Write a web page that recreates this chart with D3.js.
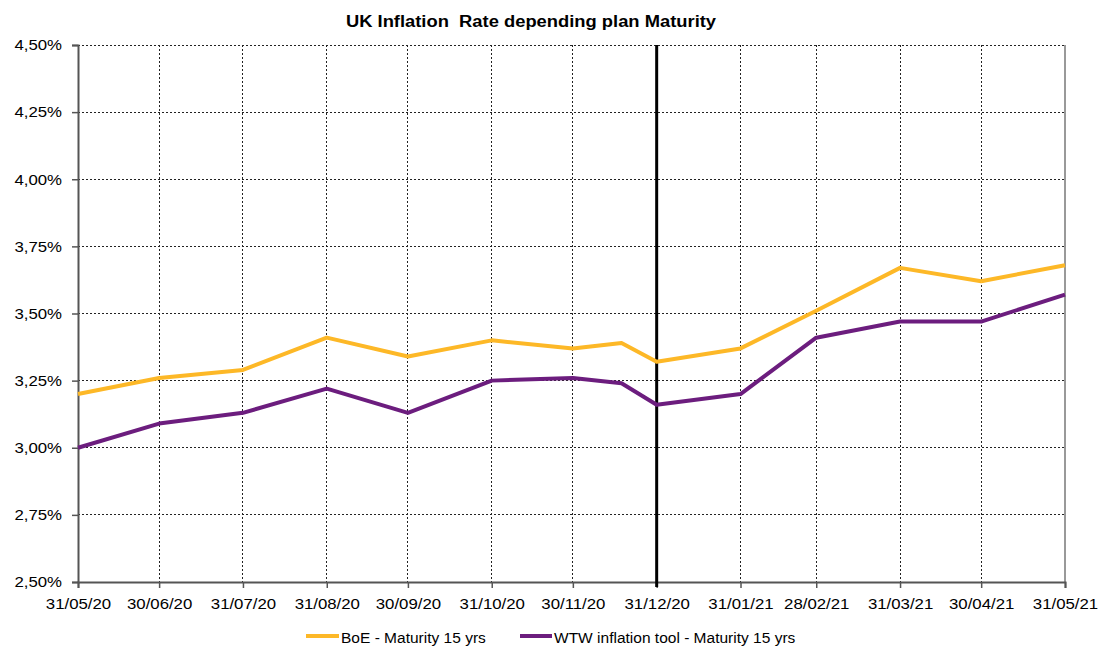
<!DOCTYPE html>
<html><head><meta charset="utf-8">
<script src="https://cdn.jsdelivr.net/npm/d3@7"></script>
<style>body{margin:0;background:#fff;}svg{display:block;font-family:"Liberation Sans",Arial,sans-serif;}</style>
</head><body><svg id="c" width="1101" height="647"></svg>
<script>
const dates = ["31/05/20","30/06/20","31/07/20","31/08/20","30/09/20","31/10/20","30/11/20","18/12/20","31/12/20","31/01/21","28/02/21","31/03/21","30/04/21","31/05/21"];
const boe = [3.20,3.26,3.29,3.41,3.34,3.40,3.37,3.39,3.32,3.37,3.51,3.67,3.62,3.68];
const wtw = [3.00,3.09,3.13,3.22,3.13,3.25,3.26,3.24,3.16,3.20,3.41,3.47,3.47,3.57];
const xTicks = ["31/05/20","30/06/20","31/07/20","31/08/20","30/09/20","31/10/20","30/11/20","31/12/20","31/01/21","28/02/21","31/03/21","30/04/21","31/05/21"];
const yTicks = [2.50,2.75,3.00,3.25,3.50,3.75,4.00,4.25,4.50];
const markerDate = "31/12/20";
const seriesNames = ["BoE - Maturity 15 yrs","WTW inflation tool - Maturity 15 yrs"];
const colors = ["#FDB827","#6C1D7E"];

const parse = d3.timeParse("%d/%m/%y");
const svg = d3.select("#c");
const L=78,R=1065,T=45,B=582;
const x = d3.scaleTime().domain([parse("31/05/20"),parse("31/05/21")]).range([L,R]);
const y = d3.scaleLinear().domain([2.5,4.5]).range([B,T]);
const fmt = v => d3.format(".2f")(v).replace(".",",")+"%";
const SX = 1.12;

// grid
const g = svg.append("g");
g.selectAll(".hg").data(yTicks.slice(1)).join("line")
  .attr("x1",L).attr("x2",R).attr("y1",d=>y(d)).attr("y2",d=>y(d))
  .attr("stroke","#222").attr("stroke-width",1).attr("stroke-dasharray","2,2").attr("shape-rendering","crispEdges");
g.selectAll(".vg").data(xTicks.slice(1,-1)).join("line")
  .attr("x1",d=>x(parse(d))).attr("x2",d=>x(parse(d))).attr("y1",T).attr("y2",B)
  .attr("stroke","#222").attr("stroke-width",1).attr("stroke-dasharray","2,2").attr("shape-rendering","crispEdges");
// right border
svg.append("line").attr("x1",R).attr("x2",R).attr("y1",T).attr("y2",B).attr("stroke","#999").attr("stroke-width",2);

// axes
const yAxis = svg.append("g").attr("transform",`translate(${L},0)`)
  .call(d3.axisLeft(y).tickValues(yTicks).tickFormat(fmt).tickSize(6).tickPadding(4));
const xAxis = svg.append("g").attr("transform",`translate(0,${B})`)
  .call(d3.axisBottom(x).tickValues(xTicks.map(parse)).tickFormat(d3.timeFormat("%d/%m/%y")).tickSize(6).tickPadding(5));
[yAxis,xAxis].forEach(a=>{
  a.attr("font-size",15).attr("font-family","Liberation Sans, Arial, sans-serif");
  a.select(".domain").attr("stroke","#555").attr("stroke-width",2);
  a.selectAll(".tick line").attr("stroke","#555").attr("stroke-width",1.5);
  a.selectAll("text").attr("fill","#000").attr("transform",`scale(${SX},1)`);
});
yAxis.selectAll("text").attr("x",-16/SX);
xAxis.selectAll("text").attr("y",27).attr("dy",0);

// marker line
svg.append("line").attr("x1",x(parse(markerDate))).attr("x2",x(parse(markerDate)))
  .attr("y1",T).attr("y2",B+5).attr("stroke","#000").attr("stroke-width",3);

// series
const line = d3.line().x((d,i)=>x(parse(dates[i]))).y(d=>y(d));
[boe,wtw].forEach((s,k)=>{
  svg.append("path").datum(s).attr("d",line).attr("fill","none")
    .attr("stroke",colors[k]).attr("stroke-width",4).attr("stroke-linejoin","round");
});

// title
svg.append("g").attr("transform","translate(531,27)").append("text")
  .attr("text-anchor","middle").attr("transform","scale(1.08,1)")
  .style("white-space","pre")
  .attr("font-size",17).attr("font-weight","bold").text("UK Inflation  Rate depending plan Maturity");

// legend
const leg = [{x1:306,x2:339,tx:341},{x1:520,x2:552,tx:554}];
leg.forEach((l,k)=>{
  svg.append("line").attr("x1",l.x1).attr("x2",l.x2).attr("y1",636).attr("y2",636)
    .attr("stroke",colors[k]).attr("stroke-width",4);
  svg.append("g").attr("transform",`translate(${l.tx},642.5)`).append("text")
    .attr("transform","scale(1.035,1)").attr("font-size",15).text(seriesNames[k]);
});
</script></body></html>
